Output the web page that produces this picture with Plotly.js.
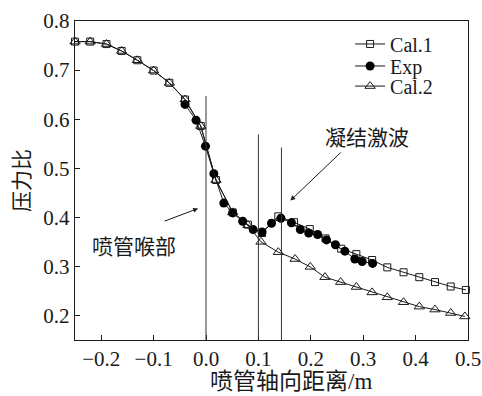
<!DOCTYPE html>
<html>
<head>
<meta charset="utf-8">
<script src="https://cdn.plot.ly/plotly-3.0.1.min.js"></script>
<style>html,body{margin:0;padding:0;background:#fff;}#chart{width:482px;height:396px;}</style>
</head>
<body>
<div id="chart"></div>
<script>
// Cal.1 (open squares)
const cal1X = [-0.25, -0.221, -0.190, -0.161, -0.131, -0.100, -0.070, -0.040, -0.010, 0.019, 0.051, 0.080, 0.107, 0.138, 0.168, 0.198, 0.228, 0.258, 0.287, 0.317, 0.346, 0.377, 0.407, 0.437, 0.467, 0.496];
const cal1Y = [0.758, 0.758, 0.753, 0.739, 0.720, 0.699, 0.674, 0.640, 0.586, 0.476, 0.410, 0.385, 0.368, 0.402, 0.390, 0.376, 0.357, 0.336, 0.325, 0.313, 0.298, 0.288, 0.278, 0.268, 0.259, 0.252];
// Exp (filled circles)
const expX = [-0.040, -0.019, -0.001, 0.015, 0.034, 0.051, 0.070, 0.090, 0.107, 0.125, 0.143, 0.163, 0.180, 0.196, 0.213, 0.230, 0.247, 0.265, 0.284, 0.298, 0.318];
const expY = [0.630, 0.598, 0.545, 0.489, 0.429, 0.409, 0.392, 0.375, 0.370, 0.388, 0.398, 0.389, 0.375, 0.368, 0.365, 0.354, 0.344, 0.331, 0.315, 0.310, 0.306];
// Cal.2 (open triangles)
const cal2X = [-0.25, -0.221, -0.190, -0.161, -0.131, -0.100, -0.070, -0.040, -0.010, 0.019, 0.051, 0.080, 0.105, 0.138, 0.170, 0.199, 0.227, 0.257, 0.287, 0.317, 0.346, 0.377, 0.407, 0.437, 0.467, 0.494];
const cal2Y = [0.758, 0.758, 0.753, 0.739, 0.720, 0.699, 0.674, 0.640, 0.586, 0.476, 0.410, 0.384, 0.350, 0.329, 0.315, 0.299, 0.278, 0.268, 0.258, 0.247, 0.237, 0.227, 0.218, 0.212, 0.205, 0.198];
// reference vertical lines
const guideX = [0.0, 0.1, 0.144];
const guideTop = [0.647, 0.569, 0.542];
// labels
const seriesNames = ['Cal.1', 'Exp', 'Cal.2'];
const xTitle = '喷管轴向距离/m';
const yTitle = '压力比';
const noteThroat = '喷管喉部';
const noteShock = '凝结激波';
const xTicks = [-0.2, -0.1, 0.0, 0.1, 0.2, 0.3, 0.4, 0.5];
const yTicks = [0.2, 0.3, 0.4, 0.5, 0.6, 0.7, 0.8];

const SERIF = 'Liberation Serif';
const CJK = 'Noto Sans CJK SC';
const INK = '#1a1a1a';

const traces = [
  {x: cal1X, y: cal1Y, name: seriesNames[0], mode: 'lines+markers', cliponaxis: false, legend: 'legend',
   line: {color: INK, width: 1}, marker: {symbol: 'square-open', size: 7, color: INK, line: {width: 1}}},
  {x: expX, y: expY, name: seriesNames[1], mode: 'lines+markers', cliponaxis: false, legend: 'legend2',
   line: {color: INK, width: 1}, marker: {symbol: 'circle', size: 9, color: '#000'}},
  {x: cal2X, y: cal2Y, name: seriesNames[2], mode: 'lines+markers', cliponaxis: false, legend: 'legend3',
   line: {color: INK, width: 1}, marker: {symbol: 'triangle-up-open', size: 9, color: INK, line: {width: 1}}}
];

const shapes = guideX.map((gx, i) => ({
  type: 'line', xref: 'x', yref: 'y', x0: gx, x1: gx, y0: 0.15, y1: guideTop[i],
  line: {color: '#333', width: 1}
}));

const annotations = [
  {xref: 'x', yref: 'y', x: -0.015, y: 0.418, ax: -0.082, ay: 0.391, axref: 'x', ayref: 'y',
   text: '', showarrow: true, arrowhead: 2, arrowsize: 1, arrowwidth: 1, arrowcolor: INK},
  {xref: 'x', yref: 'y', x: 0.161, y: 0.434, ax: 0.260, ay: 0.535, axref: 'x', ayref: 'y',
   text: '', showarrow: true, arrowhead: 2, arrowsize: 1, arrowwidth: 1, arrowcolor: INK},
  {xref: 'x', yref: 'y', x: -0.138, y: 0.344, text: noteThroat, showarrow: false,
   font: {family: CJK, size: 21, color: INK}},
  {xref: 'x', yref: 'y', x: 0.307, y: 0.565, text: noteShock, showarrow: false,
   font: {family: CJK, size: 21, color: INK}},
  {xref: 'paper', yref: 'paper', x: 0.55, y: -0.13, xanchor: 'center', yanchor: 'middle', text: xTitle, showarrow: false,
   font: {family: 'Liberation Serif, Noto Sans CJK SC', size: 23, color: INK}}
];

const legBase = {x: 0.70, xanchor: 'left', yanchor: 'middle', bgcolor: 'rgba(0,0,0,0)',
                 font: {family: SERIF, size: 20, color: INK}};

const layout = {
  width: 482, height: 396,
  margin: {l: 75, r: 14, t: 21, b: 56},
  paper_bgcolor: '#fff', plot_bgcolor: '#fff',
  font: {family: SERIF, color: INK, size: 20},
  showlegend: true,
  legend: Object.assign({}, legBase, {y: 0.928}),
  legend2: Object.assign({}, legBase, {y: 0.859}),
  legend3: Object.assign({}, legBase, {y: 0.796}),
  xaxis: {range: [-0.25, 0.5], tickvals: xTicks, ticktext: xTicks.map(v => (v < 0 ? '\u2212' + Math.abs(v).toFixed(1) : v.toFixed(1))),
          ticks: 'inside', ticklen: 5, tickcolor: INK, showline: true, linecolor: INK, linewidth: 1.2, mirror: true,
          showgrid: false, zeroline: false, tickfont: {family: SERIF, size: 21, color: INK}},
  yaxis: {range: [0.15, 0.8], tickvals: yTicks, ticktext: yTicks.map(v => v.toFixed(1)),
          ticks: 'inside', ticklen: 5, tickcolor: INK, showline: true, linecolor: INK, linewidth: 1.2, mirror: true,
          showgrid: false, zeroline: false, tickfont: {family: SERIF, size: 21, color: INK},
          title: {text: yTitle, font: {family: CJK, size: 21, color: INK}, standoff: 8}},
  shapes: shapes,
  annotations: annotations
};

Plotly.newPlot('chart', traces, layout, {displayModeBar: false, staticPlot: true});
</script>
</body>
</html>
